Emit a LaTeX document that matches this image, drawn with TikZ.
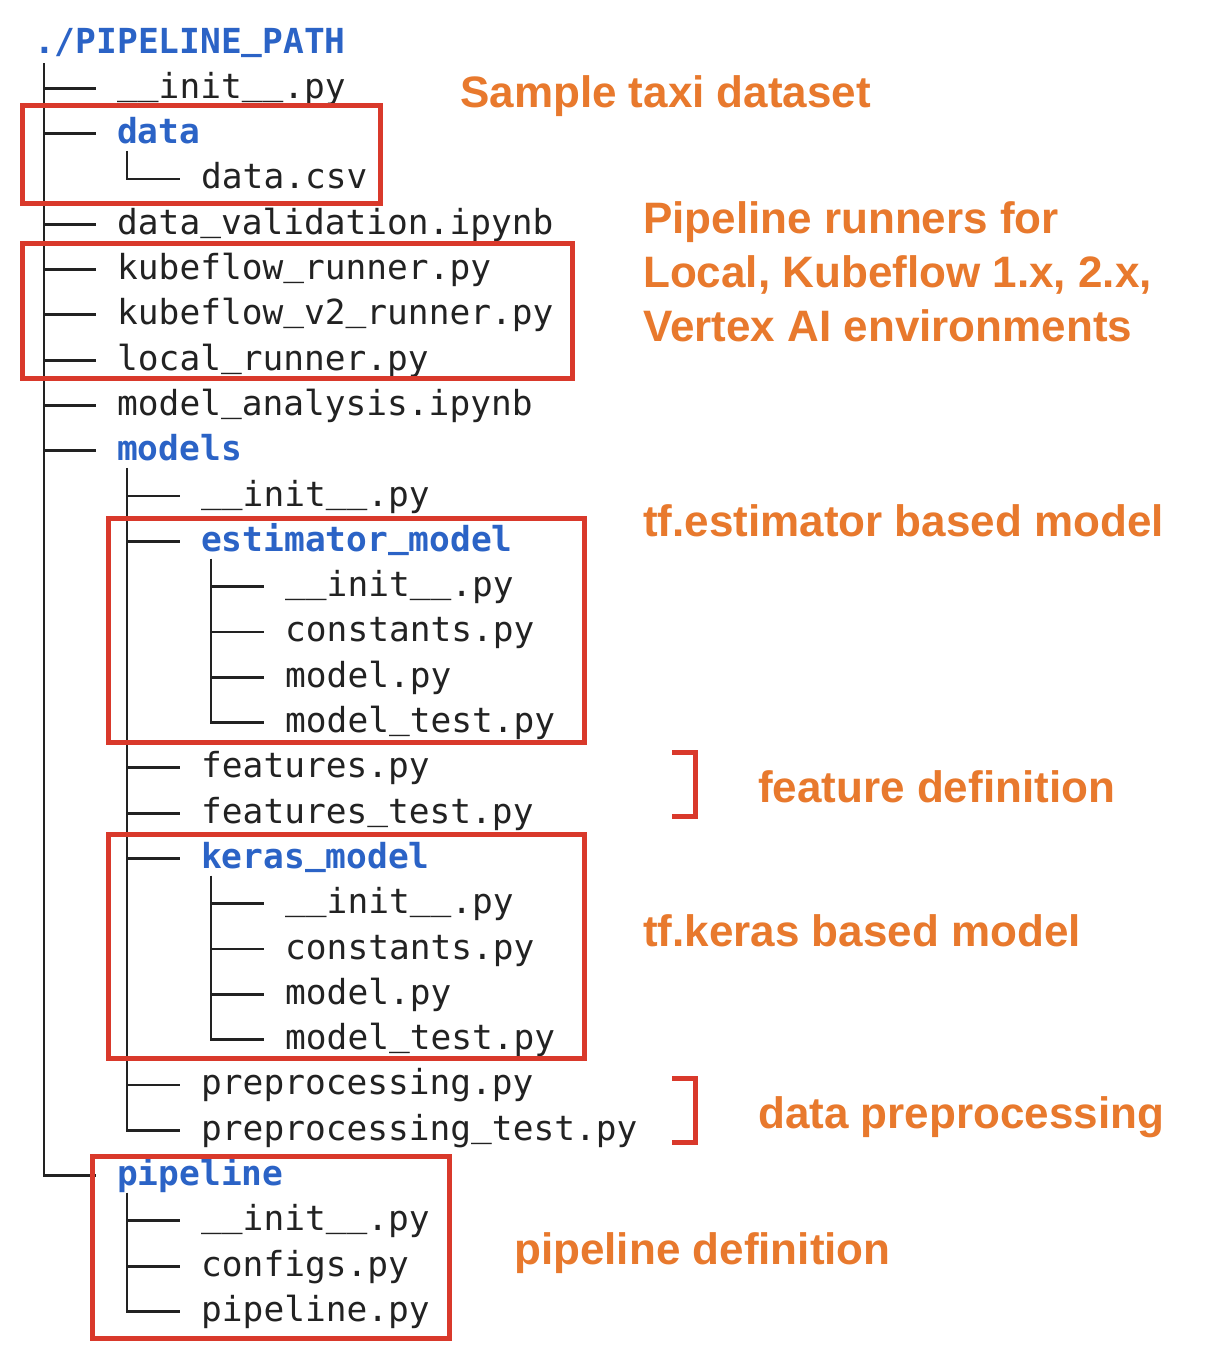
\documentclass[tikz,border=0pt]{standalone}
\usepackage{fontspec}
\usepackage{xcolor}
\usetikzlibrary{positioning}
\newfontfamily\treefont{DejaVu Sans Mono}
\newfontfamily\notefont{Liberation Sans}
\definecolor{dirblue}{HTML}{2B63C6}
\definecolor{filegray}{HTML}{222222}
\definecolor{boxred}{HTML}{D9392B}
\definecolor{noteorange}{HTML}{E8792D}
% underscore sitting a little higher, as in the listing
\newcommand{\us}{\raisebox{4pt}{\_}}

\tikzset{
  file/.style={anchor=base west, inner sep=0pt, text height=27pt, text depth=7pt,
    font=\treefont\fontsize{34.5}{40}\selectfont, text=filegray},
  dir/.style={file, font=\treefont\bfseries\fontsize{34.5}{40}\selectfont, text=dirblue},
  tree/.style={draw=filegray, line width=2.8pt},
  hilite/.style={draw=boxred, line width=5pt},
  note/.style={anchor=base west, inner sep=0pt, align=left,
    font=\notefont\bfseries\fontsize{44}{54}\selectfont, text=noteorange}
}

\begin{document}
\begin{tikzpicture}[x=1pt,y=-1pt]
	\fill[white] (0,0) rectangle (1210,1358);
	\useasboundingbox (0,0) rectangle (1210,1358);

	% listing
	\node[dir]  (root)     at (34,53)      {./PIPELINE\us PATH};
	\node[file] (init1)    at (117,98.3)   {\us\us init\us\us.py};
	\node[dir]  (data)     at (117,143.6)  {data};
	\node[file] (csv)      at (201,188.9)  {data.csv};
	\node[file] (valid)    at (117,234.2)  {data\us validation.ipynb};
	\node[file] (kfr)      at (117,279.5)  {kubeflow\us runner.py};
	\node[file] (kfv2)     at (117,324.8)  {kubeflow\us v2\us runner.py};
	\node[file] (local)    at (117,370.1)  {local\us runner.py};
	\node[file] (analysis) at (117,415.4)  {model\us analysis.ipynb};
	\node[dir]  (models)   at (117,460.7)  {models};
	\node[file] (init2)    at (201,506)    {\us\us init\us\us.py};
	\node[dir]  (est)      at (201,551.3)  {estimator\us model};
	\node[file] (einit)    at (285,596.6)  {\us\us init\us\us.py};
	\node[file] (econst)   at (285,641.9)  {constants.py};
	\node[file] (emodel)   at (285,687.2)  {model.py};
	\node[file] (etest)    at (285,732.5)  {model\us test.py};
	\node[file] (feat)     at (201,777.8)  {features.py};
	\node[file] (feattest) at (201,823.1)  {features\us test.py};
	\node[dir]  (keras)    at (201,868.4)  {keras\us model};
	\node[file] (kinit)    at (285,913.7)  {\us\us init\us\us.py};
	\node[file] (kconst)   at (285,959)    {constants.py};
	\node[file] (kmodel)   at (285,1004.3) {model.py};
	\node[file] (ktest)    at (285,1049.6) {model\us test.py};
	\node[file] (prep)     at (201,1094.9) {preprocessing.py};
	\node[file] (preptest) at (201,1140.2) {preprocessing\us test.py};
	\node[dir]  (pipe)     at (117,1185.5) {pipeline};
	\node[file] (pinit)    at (201,1230.8) {\us\us init\us\us.py};
	\node[file] (pconf)    at (201,1276.1) {configs.py};
	\node[file] (ppipe)    at (201,1321.4) {pipeline.py};

	% tree lines
	\draw[tree] ([xshift=10pt,yshift=-3pt]root.south west) |- ([xshift=-21pt]pipe.west);
	\foreach \n in {init1,data,valid,kfr,kfv2,local,analysis,models}
		\draw[tree] ([xshift=-73pt]\n.west) -- ([xshift=-21pt]\n.west);
	\draw[tree] ([xshift=10pt]data.south west) |- ([xshift=-21pt]csv.west);
	\draw[tree] ([xshift=10pt]models.south west) |- ([xshift=-21pt]preptest.west);
	\foreach \n in {init2,est,feat,feattest,keras,prep}
		\draw[tree] ([xshift=-73pt]\n.west) -- ([xshift=-21pt]\n.west);
	\draw[tree] ([xshift=10pt]est.south west) |- ([xshift=-21pt]etest.west);
	\foreach \n in {einit,econst,emodel}
		\draw[tree] ([xshift=-73pt]\n.west) -- ([xshift=-21pt]\n.west);
	\draw[tree] ([xshift=10pt]keras.south west) |- ([xshift=-21pt]ktest.west);
	\foreach \n in {kinit,kconst,kmodel}
		\draw[tree] ([xshift=-73pt]\n.west) -- ([xshift=-21pt]\n.west);
	\draw[tree] ([xshift=10pt]pipe.south west) |- ([xshift=-21pt]ppipe.west);
	\foreach \n in {pinit,pconf}
		\draw[tree] ([xshift=-73pt]\n.west) -- ([xshift=-21pt]\n.west);

	% highlight boxes and brackets
	\draw[hilite] (22,105) rectangle (380,203);
	\draw[hilite] (22,243) rectangle (572,378);
	\draw[hilite] (108,518) rectangle (584,742);
	\draw[hilite] (108,834) rectangle (584,1058);
	\draw[hilite] (92,1156) rectangle (449,1338);
	\draw[hilite] (672,752) -| (695,816) -- (672,816);
	\draw[hilite] (672,1078) -| (695,1142) -- (672,1142);

	% notes
	\node[note] (taxi)    at (460,107)  {Sample taxi dataset};
	\node[note] (runners) at (643,341)  {Pipeline runners for\\Local, Kubeflow 1.x, 2.x,\\Vertex AI environments};
	\node[note] (estnote) at (643,536)  {tf.estimator based model};
	\node[note] (featnote) at (758,802) {feature definition};
	\node[note] (kerasnote) at (643,946) {tf.keras based model};
	\node[note] (prepnote) at (758,1128) {data preprocessing};
	\node[note] (pipenote) at (514,1264) {pipeline definition};
\end{tikzpicture}
\end{document}
